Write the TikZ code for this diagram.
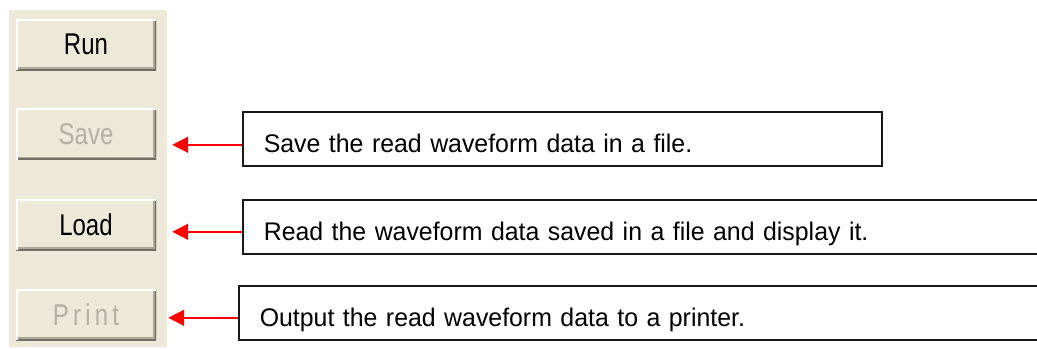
\documentclass[tikz,border=0pt]{standalone}
\usepackage{fontspec}
\setmainfont{Liberation Sans}
\newfontfamily\btnfont[FakeStretch=0.8]{Liberation Sans}
\newfontfamily\btnwidefont[FakeStretch=0.8,LetterSpace=14]{Liberation Sans}
\newfontfamily\descfont[FakeStretch=0.975]{Liberation Sans}
\usetikzlibrary{arrows.meta}
\definecolor{xpface}{HTML}{ECE9D8}
\definecolor{xpshadow}{HTML}{716F64}
\definecolor{xpgrey}{HTML}{ACA899}
\definecolor{xpoff}{HTML}{B4B1A4}
\tikzstyle{pointer} = [red,line width=1.5pt,-{Triangle[length=16pt,width=16pt]}]
\tikzstyle{button} = [minimum width=140pt,minimum height=51pt,inner sep=0pt,fill=xpface,
  font=\btnfont\fontsize{30}{34}\selectfont,
  path picture={
    \draw[xpgrey,line width=6pt] (path picture bounding box.south west) -- (path picture bounding box.south east) -- (path picture bounding box.north east);
    \draw[xpshadow,line width=3pt] (path picture bounding box.south west) -- (path picture bounding box.south east) -- (path picture bounding box.north east);
    \draw[white,line width=3pt] (path picture bounding box.south west) -- (path picture bounding box.north west) -- (path picture bounding box.north east);
  }]
\tikzstyle{desc} = [draw=black!90,line width=1.6pt,anchor=north west,minimum height=54pt,
  inner xsep=21pt,inner ysep=0pt,text height=30pt,text depth=2pt,align=left,
  font=\descfont\fontsize{25.5}{30}\selectfont]
\begin{document}
\begin{tikzpicture}[x=1pt,y=-1pt]
\clip (0,0) rectangle (1037,349);
\fill[white] (0,0) rectangle (1037,349);
\fill[xpface] (9,10) rectangle (167,347);
\node[button] (run) at (86,44.5) {Run};
\node[button,text=xpoff] (save) at (86,134) {Save};
\node[button] (load) at (86,224.5) {Load};
\node[button,text=xpoff,font=\btnwidefont\fontsize{30}{34}\selectfont] (print) at (86,314.5) {Print};
\node[desc,minimum width=639pt,text width=597pt] (descsave) at (242,111) {Save the read waveform data in a file.};
\node[desc,minimum width=820pt,text width=778pt] (descload) at (242,199) {Read the waveform data saved in a file and display it.};
\node[desc,minimum width=824pt,text width=782pt] (descprint) at (238,285) {Output the read waveform data to a printer.};
\draw[pointer,shorten >=16pt] ([yshift=-6pt]descsave.west) -- ([yshift=-6pt]descsave.west -| save.east);
\draw[pointer,shorten >=16pt] ([yshift=-5pt]descload.west) -- ([yshift=-5pt]descload.west -| load.east);
\draw[pointer,shorten >=12pt] ([yshift=-5pt]descprint.west) -- ([yshift=-5pt]descprint.west -| print.east);
\end{tikzpicture}
\end{document}
